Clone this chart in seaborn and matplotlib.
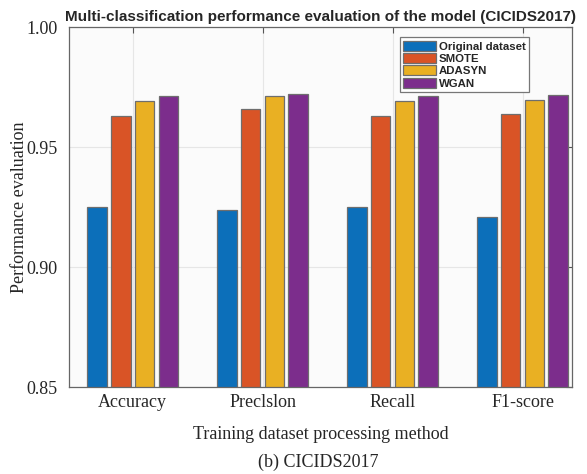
import matplotlib.pyplot as plt
import numpy as np
import pandas as pd
import seaborn as sns

# %% Data
metrics = ["Accuracy", "Preclslon", "Recall", "F1-score"]
methods = ["Original dataset", "SMOTE", "ADASYN", "WGAN"]
original = [0.9251, 0.9237, 0.9251, 0.9207]
smote = [0.9631, 0.9657, 0.9631, 0.9638]
adasyn = [0.9692, 0.9713, 0.9692, 0.9697]
wgan = [0.9713, 0.9722, 0.9713, 0.9715]
yticks = [0.85, 0.90, 0.95, 1.00]

colors = ["#0C6FBA", "#D95426", "#E9B023", "#7C2D8C"]

rows = []
for method, vals in zip(methods, [original, smote, adasyn, wgan]):
    for m, v in zip(metrics, vals):
        rows.append({"Metric": m, "Method": method, "Value": v})
df = pd.DataFrame(rows)

# %% Plot
sns.set_style("whitegrid")
plt.rcParams["font.family"] = ["Liberation Serif", "DejaVu Serif"]

fig, ax = plt.subplots(figsize=(5.87, 4.74), dpi=100)
fig.subplots_adjust(left=0.1175, right=0.9744, top=0.943, bottom=0.1835)
ax.set_facecolor("#FBFBFB")

sns.barplot(
    data=df,
    x="Metric",
    y="Value",
    hue="Method",
    order=metrics,
    hue_order=methods,
    palette=colors,
    saturation=1,
    width=0.73,
    gap=0.18,
    edgecolor="#6E6E6E",
    linewidth=0.9,
    ax=ax,
)

ax.set_ylim(0.85, 1.00)
ax.set_xlim(-0.49, 3.38)
ax.set_yticks(yticks)
ax.set_yticklabels([f"{t:.2f}" for t in yticks])
ax.tick_params(axis="both", labelsize=13, direction="in", length=4,
               color="#555555", top=True, right=True)
ax.tick_params(axis="y", pad=8)
ax.tick_params(axis="x", pad=5)
ax.grid(True, color="#E6E6E6", linewidth=0.8)
ax.set_axisbelow(True)
for s in ax.spines.values():
    s.set_color("#666666")
    s.set_linewidth(0.9)

ax.set_xlabel("Training dataset processing method", fontsize=13, labelpad=11)
ax.set_ylabel("Performance evaluation", fontsize=13, labelpad=-1)
ax.set_title(
    "Multi-classification performance evaluation of the model (CICIDS2017)",
    fontsize=11,
    fontweight="bold",
    family=["Liberation Sans", "DejaVu Sans"],
    pad=4,
)

leg = ax.legend(
    loc="upper right",
    bbox_to_anchor=(0.9145, 0.972),
    borderaxespad=0,
    fancybox=False,
    framealpha=1,
    edgecolor="#777777",
    handlelength=2.9,
    handleheight=1.0,
    handletextpad=0.2,
    labelspacing=0.12,
    borderpad=0.3,
    prop={"family": ["Liberation Sans", "DejaVu Sans"], "weight": "bold", "size": 8.2},
)
leg.get_frame().set_linewidth(0.9)

fig.text(0.542, 0.025, "(b) CICIDS2017", ha="center", va="center", fontsize=13)

plt.savefig("out.png", dpi=100, facecolor="white")
